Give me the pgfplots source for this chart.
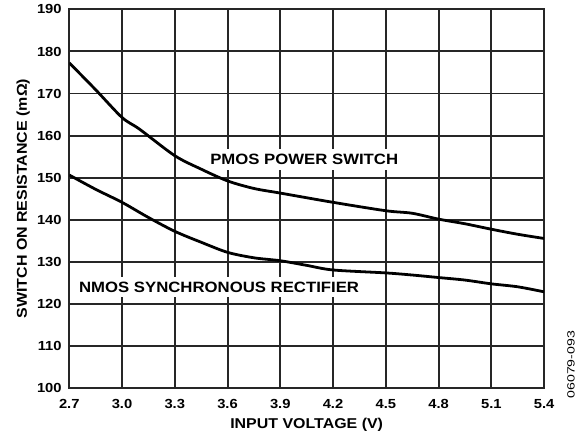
\documentclass[border=0pt]{standalone}
\usepackage{fontspec}
\setmainfont{Liberation Sans}[FakeStretch=1.12]
\newfontfamily\codefont{Liberation Sans}[FakeStretch=1.35]
\usepackage{pgfplots}
\pgfplotsset{compat=1.18}

\begin{document}
\begin{tikzpicture}
\begin{axis}[
    scale only axis,
    width=476.5pt, height=379.5pt,
    xmin=2.7, xmax=5.4,
    ymin=100, ymax=190,
    xtick={2.7,3.0,3.3,3.6,3.9,4.2,4.5,4.8,5.1,5.4},
    ytick={100,110,120,130,140,150,160,170,180,190},
    grid=major,
    grid style={draw=black!85, line width=2pt},
    axis line style={draw=black!85, line width=2pt},
    major tick length=0pt,
    /pgf/number format/assume math mode=true,
    tick label style={font=\fontsize{13.2}{15}\selectfont\bfseries},
    xticklabel style={anchor=north, inner sep=0pt, yshift=-11.5pt,
        /pgf/number format/.cd, fixed, fixed zerofill, precision=1},
    yticklabel style={anchor=east, inner sep=0pt, xshift=-7.5pt,
        /pgf/number format/.cd, fixed, precision=0},
    xlabel={INPUT VOLTAGE (V)},
    ylabel={SWITCH ON RESISTANCE (mΩ)},
    label style={font=\fontsize{14.3}{16}\selectfont\bfseries},
    xlabel style={at={(axis description cs:0.5,-0.108)}, anchor=base},
    ylabel style={at={(axis description cs:-0.0891,0.5)}, anchor=base},
]
% PMOS power switch
\addplot[black, line width=2.8pt, smooth, tension=0.5] coordinates {
    (2.7,177.3) (2.85,170.9) (3.0,164.3) (3.1,161.5) (3.3,155.2) (3.45,152.0)
    (3.6,149.2) (3.75,147.4) (3.9,146.3) (4.2,144.1) (4.5,142.1) (4.65,141.5)
    (4.8,140.1) (4.95,139.0) (5.1,137.7) (5.25,136.5) (5.4,135.5)
};
% NMOS synchronous rectifier
\addplot[black, line width=2.8pt, smooth, tension=0.5] coordinates {
    (2.7,150.6) (2.85,147.2) (3.0,144.1) (3.15,140.5) (3.3,137.2) (3.45,134.6)
    (3.6,132.2) (3.75,130.9) (3.9,130.2) (4.05,129.1) (4.2,128.0) (4.5,127.3)
    (4.65,126.8) (4.8,126.2) (4.95,125.6) (5.1,124.7) (5.25,124.0) (5.4,122.8)
};
\node[fill=white, inner xsep=3pt, inner ysep=5pt,
      font=\fontsize{15}{17}\selectfont\bfseries] at (axis cs:4.036,154.3) {PMOS POWER SWITCH};
\node[fill=white, inner xsep=3pt, inner ysep=5pt,
      font=\fontsize{15}{17}\selectfont\bfseries] at (axis cs:3.552,123.9) {NMOS SYNCHRONOUS RECTIFIER};
\end{axis}
\node[rotate=90, font=\codefont\fontsize{10.5}{12}\selectfont] at (503.5pt,23pt) {06079-093};
\path[use as bounding box] (-69.5pt,-50pt) rectangle (508.5pt,389pt);
\end{tikzpicture}
\end{document}
